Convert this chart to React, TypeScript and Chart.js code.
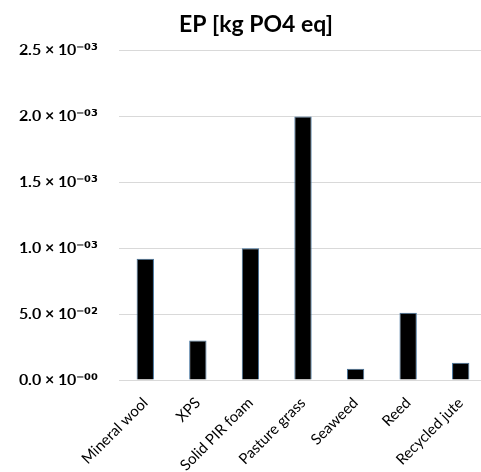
import React, { useEffect, useRef } from "react";
import { Chart, registerables } from "chart.js";

Chart.register(...registerables);

const categories = ["Mineral wool", "XPS", "Solid PIR foam", "Pasture grass", "Seaweed", "Reed", "Recycled jute"];
const epValues = [0.00092, 0.0003, 0.001, 0.002, 0.000085, 0.00051, 0.00013];
const yTickValues = [0, 0.0005, 0.001, 0.0015, 0.002, 0.0025];
const yTickLabels = ["0.0 × 10⁻⁰⁰", "5.0 × 10⁻⁰²", "1.0 × 10⁻⁰³", "1.5 × 10⁻⁰³", "2.0 × 10⁻⁰³", "2.5 × 10⁻⁰³"];
const chartTitle = "EP [kg PO4 eq]";

const FONT = "Lato, 'Open Sans', sans-serif";
const YFONT = "YLab, Lato, sans-serif";

const fontCss = `
@font-face { font-family: "YLab"; src: local("Lato Bold"), local("Lato-Bold"); font-weight: 700; }
@font-face { font-family: "YLab"; src: local("DejaVu Sans Bold"), local("DejaVuSans-Bold"); font-weight: 700; unicode-range: U+2070-209F, U+00B2-00B3, U+00B9; }
`;

const widenYLabelArea = {
  id: "widenYLabelArea",
  afterLayout(chart: any) {
    if (chart.scales && chart.scales.y) chart.scales.y.left = 0;
  },
};

export default function App() {
  const ref = useRef<HTMLCanvasElement | null>(null);
  useEffect(() => {
    let chart: Chart | null = null;
    let cancelled = false;
    const make = () => {
      if (cancelled || !ref.current) return;
      chart = new Chart(ref.current, {
        type: "bar",
        data: {
          labels: categories,
          datasets: [
            {
              label: chartTitle,
              data: epValues,
              backgroundColor: "#000000",
              borderColor: "#41719C",
              borderWidth: 1,
              barPercentage: 0.33,
              categoryPercentage: 1,
            },
          ],
        },
        plugins: [widenYLabelArea],
        options: {
          animation: false,
          responsive: false,
          devicePixelRatio: 1,
          layout: { padding: { left: 25, right: 13, top: 0, bottom: 0 } },
          plugins: {
            legend: { display: false },
            tooltip: { enabled: false },
            title: {
              display: true,
              text: chartTitle,
              color: "#000000",
              font: { family: FONT, size: 23, weight: "bold" },
              padding: { top: 11, bottom: 12 },
            },
          },
          scales: {
            x: {
              grid: { display: false },
              border: { display: false },
              ticks: {
                color: "#000000",
                font: { family: FONT, size: 15 },
                minRotation: 45,
                maxRotation: 45,
                padding: 6,
              },
              afterFit: (s: any) => {
                s.height = 92;
              },
            },
            y: {
              min: 0,
              max: 0.0025,
              afterBuildTicks: (s: any) => {
                s.ticks = yTickValues.map((v) => ({ value: v }));
              },
              grid: { color: "#d9d9d9", drawTicks: false, lineWidth: 1 },
              border: { display: false },
              ticks: {
                color: "#000000",
                font: { family: YFONT, size: 16, weight: "bold" },
                padding: 21,
                callback: (_v: any, i: number) => yTickLabels[i],
              },
              afterFit: (s: any) => {
                s.width = 94;
              },
            },
          },
        },
      });
    };
    const fonts: any = (document as any).fonts;
    if (fonts && fonts.load) {
      Promise.all([
        fonts.load("bold 16px YLab", "2.5 × 10⁻⁰³"),
        fonts.load("bold 23px Lato", "EP"),
        fonts.load("15px Lato", "Reed"),
      ])
        .catch(() => null)
        .then(make);
    } else {
      make();
    }
    return () => {
      cancelled = true;
      if (chart) chart.destroy();
    };
  }, []);
  return (
    <div style={{ position: "absolute", left: 0, top: 0, width: 481, height: 472, overflow: "hidden", background: "#fff" }}>
      <style>{fontCss}</style>
      <canvas ref={ref} width={500} height={472} style={{ display: "block" }} />
    </div>
  );
}
